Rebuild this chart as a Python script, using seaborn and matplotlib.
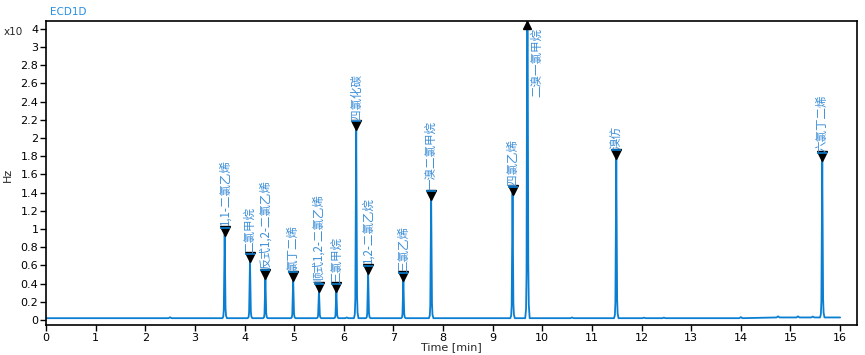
import numpy as np
import matplotlib
matplotlib.use('Agg')
import matplotlib.pyplot as plt
import matplotlib.transforms as mtransforms
import seaborn as sns
import pandas as pd

# peak retention times [min], heights [x10^4 Hz] and compound names
peak_times = [3.60, 4.11, 4.42, 4.98, 5.50, 5.85, 6.25, 6.49, 7.20, 7.76,
              9.40, 9.70, 11.49, 15.64]
peak_heights = [0.92, 0.63, 0.45, 0.43, 0.30, 0.30, 2.09, 0.50, 0.42, 1.32,
                1.37, 5.00, 1.77, 1.74]
peak_names = ['1,1-二氯乙烯', '二氯甲烷', '反式1,2-二氯乙烯', '氯丁二烯',
              '顺式1,2-二氯乙烯', '三氯甲烷', '四氯化碳', '1,2-二氯乙烷',
              '三氯乙烯', '一溴二氯甲烷', '四氯乙烯', '二溴一氯甲烷', '溴仿',
              '六氯丁二烯']

# small baseline bumps
bump_times = [2.50, 6.06, 10.60, 12.05, 12.45, 14.00, 14.75, 15.15, 15.45]
bump_heights = [0.010, 0.008, 0.008, 0.006, 0.006, 0.012, 0.012, 0.012, 0.010]

# shared peak profile (offset in min, fraction of height)
profile_dt = [-0.045, -0.028, -0.018, -0.011, -0.005, 0.0, 0.005, 0.010,
              0.017, 0.027, 0.045]
profile_rel = [0.0, 0.02, 0.10, 0.45, 0.80, 1.0, 0.72, 0.40, 0.12, 0.03, 0.0]
bump_dt = [-0.03, 0.0, 0.03]
bump_rel = [0.0, 1.0, 0.0]

baseline = 0.02
baseline_late = 0.028
t_end = 16.0

blue = '#0a7fd2'
label_blue = '#3d8fd8'

# build the chromatogram trace
events = [(t, h, profile_dt, profile_rel) for t, h in zip(peak_times, peak_heights)]
events += [(t, h, bump_dt, bump_rel) for t, h in zip(bump_times, bump_heights)]
events.sort(key=lambda e: e[0])
tt, yy = [0.0], [baseline]
for t0, h, dts, rels in events:
    base = baseline_late if t0 > 14.1 else baseline
    for dt, r in zip(dts, rels):
        tt.append(t0 + dt)
        yy.append(base + h * r)
tt.append(t_end)
yy.append(baseline_late)
trace = pd.DataFrame({'time': tt, 'signal': yy})


# axis is linear up to 3, compressed above
def fwd(y):
    y = np.asarray(y, dtype=float)
    return np.where(y <= 3, y, 3 + (y - 3) * 0.2)


def inv(f):
    f = np.asarray(f, dtype=float)
    return np.where(f <= 3, f, 3 + (f - 3) / 0.2)


sns.set_style('ticks')
plt.rcParams['font.family'] = ['DejaVu Sans']

fig = plt.figure(figsize=(8.65, 3.55), dpi=100)
ax = fig.add_axes([46 / 865, 1 - 325 / 355, 811 / 865, 304 / 355])

sns.lineplot(data=trace, x='time', y='signal', ax=ax, color=blue,
             linewidth=1.3, estimator=None, sort=False)

ax.set_yscale('function', functions=(fwd, inv))
ax.set_ylim(-0.055, 4.43)
ax.set_xlim(0, 16.34)

yt = [0, 0.2, 0.4, 0.6, 0.8, 1, 1.2, 1.4, 1.6, 1.8, 2, 2.2, 2.4, 2.6, 2.8, 3, 4]
ax.set_yticks(yt)
ax.set_yticklabels([('%g' % v) for v in yt])
ax.set_xticks(range(17))
ax.tick_params(axis='both', direction='out', length=4, width=1,
               labelsize=8, colors='black', pad=1.5)
for s in ax.spines.values():
    s.set_color('black')
    s.set_linewidth(1.2)

# peak markers and labels
up = mtransforms.offset_copy(ax.transData, fig=fig, x=0, y=2.5, units='points')
bar = mtransforms.offset_copy(ax.transData, fig=fig, x=0, y=5, units='points')
for t, h, name in zip(peak_times, peak_heights, peak_names):
    y = h + baseline
    if h > 4.4:
        ax.plot([t], [4.2], marker='^', color='black', markersize=6,
                linestyle='none', clip_on=False)
        ax.annotate(name, xy=(t, 4.3), xytext=(7, -3),
                    textcoords='offset points', rotation=90, ha='center',
                    va='top', fontsize=8.3, color=label_blue,
                    family=['Noto Sans CJK SC', 'DejaVu Sans'])
        continue
    ax.plot([t], [y], marker='v', color='black', markersize=6.5,
            linestyle='none', transform=up)
    ax.plot([t], [y], marker='_', color=blue, markersize=7,
            markeredgewidth=1.2, linestyle='none', transform=bar)
    ax.annotate(name, xy=(t, y), xytext=(0, 6),
                textcoords='offset points', rotation=90, ha='center',
                va='bottom', fontsize=8.3, color=label_blue,
                family=['Noto Sans CJK SC', 'DejaVu Sans'])

ax.set_xlabel('')
ax.set_ylabel('')
fig.text(451 / 865, 1 - 347 / 355, 'Time [min]', fontsize=8,
         ha='center', va='center')
fig.text(8 / 865, 1 - 175 / 355, 'Hz', rotation=90, fontsize=8,
         ha='center', va='center')
fig.text(50 / 865, 1 - 12 / 355, 'ECD1D', fontsize=7.5, color='#2a8fe0',
         ha='left', va='center')
fig.text(4 / 865, 1 - 32 / 355, 'x10', fontsize=7.5, ha='left', va='center')

fig.savefig('out.png', dpi=100)
